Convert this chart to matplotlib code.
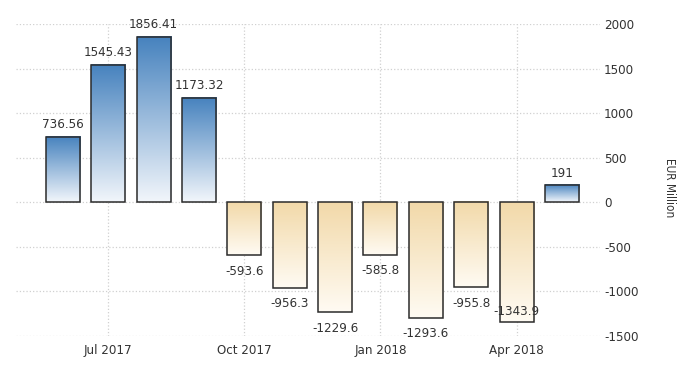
import matplotlib
matplotlib.use("Agg")
import matplotlib.pyplot as plt
import numpy as np
from matplotlib.colors import LinearSegmentedColormap

plt.rcParams['font.family'] = ['DejaVu Sans']
plt.rcParams['font.stretch'] = 'condensed'

months = ['Jun 2017', 'Jul 2017', 'Aug 2017', 'Sep 2017', 'Oct 2017', 'Nov 2017',
          'Dec 2017', 'Jan 2018', 'Feb 2018', 'Mar 2018', 'Apr 2018', 'May 2018']
values = [736.56, 1545.43, 1856.41, 1173.32, -593.6, -956.3,
          -1229.6, -585.8, -1293.6, -955.8, -1343.9, 191]
labels = ['736.56', '1545.43', '1856.41', '1173.32', '-593.6', '-956.3',
          '-1229.6', '-585.8', '-1293.6', '-955.8', '-1343.9', '191']
tick_months = ['Jul 2017', 'Oct 2017', 'Jan 2018', 'Apr 2018']
yticks = [-1500, -1000, -500, 0, 500, 1000, 1500, 2000]

blue = LinearSegmentedColormap.from_list('b', ['#f2f6fb', '#4682be'])
tan = LinearSegmentedColormap.from_list('t', ['#fffbf3', '#f2d9a9'])

fig = plt.figure(figsize=(7, 3.75), dpi=100)
ax = fig.add_axes([16 / 700, 39 / 375, 584 / 700, 312 / 375])

x = np.arange(len(values))
w = 0.75
grad = np.linspace(0, 1, 256).reshape(-1, 1)
for xi, v in zip(x, values):
    if v >= 0:
        ax.imshow(grad, cmap=blue, origin='lower', aspect='auto',
                  extent=[xi - w / 2, xi + w / 2, 0, v], zorder=2)
    else:
        ax.imshow(grad, cmap=tan, origin='lower', aspect='auto',
                  extent=[xi - w / 2, xi + w / 2, v, 0], zorder=2)
ax.bar(x, values, width=w, facecolor='none', edgecolor='#2b2b2b',
       linewidth=1.1, zorder=3)

ymin, ymax = -1500, 2000
fs = 9.5
for xi, v, lab in zip(x, values, labels):
    if v >= 0:
        ax.annotate(lab, (xi, v), xytext=(0, 4), textcoords='offset points',
                    ha='center', va='bottom', fontsize=fs, color='#333333', zorder=4)
    elif v - 190 < ymin:
        # no room below the bar: put it just inside
        ax.annotate(lab, (xi, v), xytext=(0, 3), textcoords='offset points',
                    ha='center', va='bottom', fontsize=fs, color='#333333', zorder=4)
    else:
        ax.annotate(lab, (xi, v), xytext=(0, -7), textcoords='offset points',
                    ha='center', va='top', fontsize=fs, color='#333333', zorder=4)

ax.set_xlim(-1.036, 11.84)
ax.set_ylim(ymin, ymax)
ax.set_xticks([months.index(m) for m in tick_months])
ax.set_xticklabels(tick_months, fontsize=fs, color='#333333')
ax.set_yticks(yticks)
ax.set_yticklabels([str(t) for t in yticks], fontsize=fs, color='#333333')
ax.yaxis.tick_right()
ax.tick_params(axis='both', length=0)
ax.tick_params(axis='y', pad=3)
ax.tick_params(axis='x', pad=6)
ax.grid(True, color='#d0d0d0', linestyle=':', linewidth=0.9, zorder=0)
ax.set_axisbelow(True)
for s in ax.spines.values():
    s.set_visible(False)

fig.text(670 / 700, 1 - 188 / 375, 'EUR Million', rotation=-90, ha='center',
         va='center', fontsize=8.5, color='#333333')

fig.savefig('out.png', dpi=100)
